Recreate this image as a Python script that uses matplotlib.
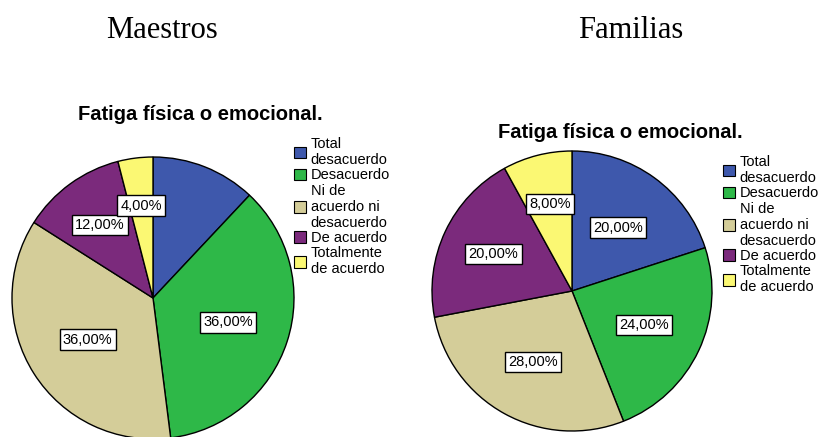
import numpy as np
import matplotlib.pyplot as plt
from matplotlib.patches import Patch

W, H = 825, 437

categories = ["Total\ndesacuerdo", "Desacuerdo", "Ni de\nacuerdo ni\ndesacuerdo", "De acuerdo", "Totalmente\nde acuerdo"]
colors = ["#3E58AC", "#2EB848", "#D4CD99", "#7B2A7C", "#FBF873"]

maestros = [12, 36, 36, 12, 4]
maestros_labels = ["", "36,00%", "36,00%", "12,00%", "4,00%"]
familias = [20, 24, 28, 20, 8]
familias_labels = ["20,00%", "24,00%", "28,00%", "20,00%", "8,00%"]

plt.rcParams["font.family"] = ["Liberation Sans", "DejaVu Sans"]

fig = plt.figure(figsize=(W / 100, H / 100), dpi=100)


def px(x, y):
    return x / W, 1 - y / H


def draw_pie(cx, cy, r, values, labels, dists):
    lim = 1.02
    size = r * lim
    ax = fig.add_axes([(cx - size) / W, (H - cy - size) / H, 2 * size / W, 2 * size / H])
    wedges, _ = ax.pie(values, colors=colors, startangle=90, counterclock=False,
                       wedgeprops=dict(edgecolor="black", linewidth=1.0))
    ax.set_xlim(-lim, lim)
    ax.set_ylim(-lim, lim)
    ax.set_aspect("auto")
    ax.axis("off")
    for w, lab, d in zip(wedges, labels, dists):
        if not lab:
            continue
        ang = np.deg2rad((w.theta1 + w.theta2) / 2)
        ax.text(d * np.cos(ang), d * np.sin(ang), lab, ha="center", va="center",
                fontsize=10.5,
                bbox=dict(boxstyle="square,pad=0.22", fc="white", ec="black", lw=1.0))
    return ax


draw_pie(153, 298, 141, maestros, maestros_labels, [0.6, 0.56, 0.55, 0.64, 0.66])
draw_pie(572, 291, 140, familias, familias_labels, [0.56, 0.57, 0.58, 0.62, 0.64])

# headers
fig.text(*px(162, 31), "Maestros", family="Liberation Serif", fontsize=22, ha="center", va="center")
fig.text(*px(631, 31), "Familias", family="Liberation Serif", fontsize=22, ha="center", va="center")

# chart titles
fig.text(*px(200, 114), "Fatiga física o emocional.", fontsize=14.5, fontweight="bold", ha="center", va="center")
fig.text(*px(620, 133), "Fatiga física o emocional.", fontsize=14.5, fontweight="bold", ha="center", va="center")

handles = [Patch(facecolor=c, edgecolor="black", linewidth=0.8) for c in colors]
for x, y in [(294, 137), (723, 155)]:
    fig.legend(handles, categories, loc="upper left", bbox_to_anchor=px(x, y),
               frameon=False, fontsize=10.5, handlelength=0.85, handleheight=0.85,
               handletextpad=0.3, labelspacing=0.08, borderpad=0, borderaxespad=0)

plt.savefig("out.png", dpi=100)
